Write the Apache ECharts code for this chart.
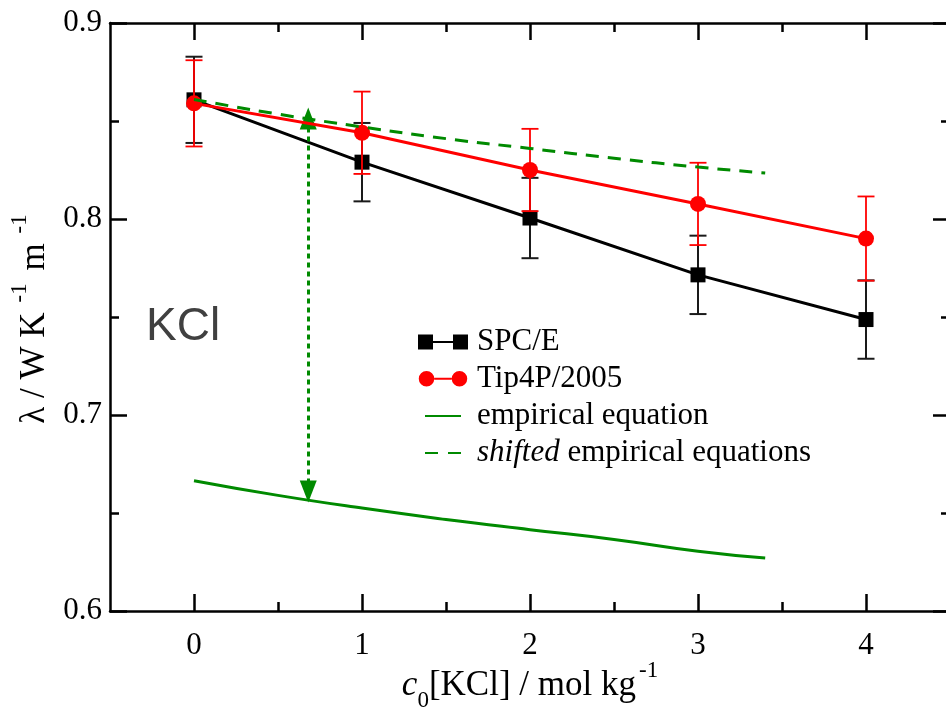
<!DOCTYPE html>
<html>
<head>
<meta charset="utf-8">
<title>KCl thermal conductivity</title>
<script src="https://cdn.jsdelivr.net/npm/echarts@6/dist/echarts.min.js"></script>
<style>
  html, body { margin: 0; padding: 0; background: #fff; }
  #chart { width: 946px; height: 710px; }
</style>
</head>
<body>
<div id="chart"></div>
<script>
// ===== Data =====
const concX      = [0, 1, 2, 3, 4];
const spceY      = [0.8608, 0.8290, 0.8005, 0.7715, 0.7487];
const spceErr    = [0.0220, 0.0200, 0.0205, 0.0200, 0.0200];
const tipY       = [0.8590, 0.8440, 0.8250, 0.8077, 0.7900];
const tipErr     = [0.0220, 0.0210, 0.0210, 0.0210, 0.0215];

const empX       = [0, 0.5, 1, 1.5, 2, 2.5, 3, 3.4];
const empY       = [0.6665, 0.6590, 0.6525, 0.6467, 0.6415, 0.6365, 0.6305, 0.6270];
const shiftedY   = [0.8610, 0.8535, 0.8470, 0.8410, 0.8360, 0.8310, 0.8265, 0.8235];

const arrowX     = 0.68;
const arrowEnds  = [0.8513, 0.6610];

const xMajorTicks = [0, 1, 2, 3, 4];
const xMinorTicks = [0.5, 1.5, 2.5, 3.5];

(function () {
  const el = document.getElementById('chart');
  const c = echarts.init(el, null, { renderer: 'canvas' });

  const SERIF = '"Liberation Serif", "Times New Roman", serif';
  const GREEN = '#008a00';
  const RED   = '#ff0000';
  const BLACK = '#000000';

  const pair = (xs, ys) => xs.map((x, i) => [x, ys[i]]);
  const bars = (ys, errs) => concX.map((x, i) => [x, ys[i] - errs[i], ys[i] + errs[i]]);

  // vertical error bar with caps
  function errorBars(color, width) {
    return function (params, api) {
      const x = api.value(0);
      const lo = api.coord([x, api.value(1)]);
      const hi = api.coord([x, api.value(2)]);
      const half = 8.5;
      const style = { stroke: color, lineWidth: width };
      return {
        type: 'group',
        children: [
          { type: 'line', shape: { x1: lo[0], y1: lo[1], x2: hi[0], y2: hi[1] }, style },
          { type: 'line', shape: { x1: lo[0] - half, y1: lo[1], x2: lo[0] + half, y2: lo[1] }, style },
          { type: 'line', shape: { x1: hi[0] - half, y1: hi[1], x2: hi[0] + half, y2: hi[1] }, style },
        ]
      };
    };
  }

  function xAxisBase(position, ticks, len, extra) {
    return Object.assign({
      type: 'value', position, min: -0.5, max: 4.5,
      axisLine: { show: true, onZero: false, lineStyle: { color: BLACK, width: 2.5 } },
      axisTick: { show: true, inside: true, length: len, customValues: ticks, lineStyle: { color: BLACK, width: 2.5 } },
      axisLabel: { show: false },
      splitLine: { show: false },
    }, extra);
  }

  function yAxisBase(position, extra) {
    return Object.assign({
      type: 'value', position, min: 0.6, max: 0.9, interval: 0.1,
      axisLine: { show: true, onZero: false, lineStyle: { color: BLACK, width: 2.5 } },
      axisTick: { show: true, inside: true, length: 17, lineStyle: { color: BLACK, width: 2.5 } },
      minorTick: { show: true, splitNumber: 2, length: 9, lineStyle: { color: BLACK, width: 2.5 } },
      axisLabel: { show: false },
      splitLine: { show: false },
      minorSplitLine: { show: false },
    }, extra);
  }

  const legendNames = ['SPC/E', 'Tip4P/2005', 'empirical equation', 'shifted empirical equations'];
  const BOX = 'M0,0 M50,16 ';

  c.setOption({
    animation: false,
    backgroundColor: '#ffffff',
    grid: { left: 110, right: -4, top: 23, bottom: 99, containLabel: false, outerBoundsMode: 'none' },
    legend: {
      orient: 'vertical', left: 413, top: 321,
      itemWidth: 50, itemHeight: 16, itemGap: 6,
      selectedMode: false,
      itemStyle: { borderWidth: 0 },
      textStyle: {
        fontFamily: SERIF, fontSize: 31, color: BLACK, lineHeight: 30, padding: [0, 0, 0, 4],
        rich: { i: { fontFamily: SERIF, fontSize: 31, fontStyle: 'italic', color: BLACK } }
      },
      formatter: name => name === legendNames[3] ? '{i|shifted} empirical equations' : name,
      data: [
        { name: legendNames[0], icon: 'path://' + BOX + 'M0,1H15V16H0Z M35,1H50V16H35Z M15,7.5H35V9.5H15Z' },
        { name: legendNames[1], icon: 'path://' + BOX + 'M0,8.5A8,8 0 1,1 16,8.5A8,8 0 1,1 0,8.5Z M34,8.5A8,8 0 1,1 50,8.5A8,8 0 1,1 34,8.5Z M16,7.5H34V9.5H16Z' },
        { name: legendNames[2], icon: 'path://' + BOX + 'M7,7.5H43V9.5H7Z' },
        { name: legendNames[3], icon: 'path://' + BOX + 'M7,7.5H20V9.5H7Z M30,7.5H43V9.5H30Z' },
      ]
    },
    graphic: [{
      type: 'text', left: 146, top: 304, silent: true,
      style: { text: 'KCl', fontFamily: '"Liberation Sans", Arial, sans-serif', fontSize: 46, fill: '#404040' }
    }],
    xAxis: [
      xAxisBase('bottom', xMajorTicks, 17, {
        axisLabel: { show: true, customValues: xMajorTicks, margin: 19, color: BLACK, fontFamily: SERIF, fontSize: 31 },
        name: '{i|c}{sub|0}{n|[KCl] / mol kg}{sup|-1}',
        nameLocation: 'middle', nameGap: 48, nameMoveOverlap: false,
        nameTextStyle: {
          color: BLACK, fontFamily: SERIF, fontSize: 35,
          rich: {
            i:   { fontFamily: SERIF, fontSize: 35, fontStyle: 'italic', color: BLACK, lineHeight: 44, verticalAlign: 'bottom' },
            sub: { fontFamily: SERIF, fontSize: 23, color: BLACK, lineHeight: 44, verticalAlign: 'bottom', padding: [0, 0, -9, 0] },
            n:   { fontFamily: SERIF, fontSize: 35, color: BLACK, lineHeight: 44, verticalAlign: 'bottom' },
            sup: { fontFamily: SERIF, fontSize: 23, color: BLACK, lineHeight: 44, verticalAlign: 'top', padding: [0, 0, 0, 3] },
          }
        }
      }),
      xAxisBase('bottom', xMinorTicks, 9, { axisLine: { show: false, onZero: false } }),
      xAxisBase('top', xMajorTicks, 17),
      xAxisBase('top', xMinorTicks, 9, { axisLine: { show: false, onZero: false } }),
    ],
    yAxis: [
      yAxisBase('left', {
        axisLabel: { show: true, margin: 8, color: BLACK, fontFamily: SERIF, fontSize: 31, formatter: v => v.toFixed(1) },
        name: '{n|λ / W K}{sup|-1}{n| m}{sup|-1}',
        nameLocation: 'middle', nameGap: 58, nameRotate: 90, nameMoveOverlap: false,
        nameTextStyle: {
          color: BLACK, fontFamily: SERIF, fontSize: 35,
          rich: {
            n:   { fontFamily: SERIF, fontSize: 35, color: BLACK, lineHeight: 44, verticalAlign: 'bottom' },
            sup: { fontFamily: SERIF, fontSize: 23, color: BLACK, lineHeight: 44, verticalAlign: 'top', padding: [0, 4, 0, 10] },
          }
        }
      }),
      yAxisBase('right'),
    ],
    series: [
      {
        name: 'spce-err', type: 'custom', xAxisIndex: 0, yAxisIndex: 0, z: 2,
        renderItem: errorBars('#1a1a1a', 2), encode: { x: 0, y: [1, 2] },
        data: bars(spceY, spceErr), silent: true,
      },
      {
        name: legendNames[0], type: 'line', xAxisIndex: 0, yAxisIndex: 0, z: 3,
        data: pair(concX, spceY),
        symbol: 'rect', symbolSize: 15,
        lineStyle: { color: BLACK, width: 3 },
        itemStyle: { color: BLACK, borderWidth: 0 },
      },
      {
        name: 'tip-err', type: 'custom', xAxisIndex: 0, yAxisIndex: 0, z: 4,
        renderItem: errorBars(RED, 1.8), encode: { x: 0, y: [1, 2] },
        data: bars(tipY, tipErr), silent: true,
      },
      {
        name: legendNames[1], type: 'line', xAxisIndex: 0, yAxisIndex: 0, z: 5,
        data: pair(concX, tipY),
        symbol: 'circle', symbolSize: 16,
        lineStyle: { color: RED, width: 3 },
        itemStyle: { color: RED, borderWidth: 0 },
      },
      {
        name: legendNames[2], type: 'line', xAxisIndex: 0, yAxisIndex: 0, z: 6,
        data: pair(empX, empY),
        symbol: 'none', smooth: true,
        lineStyle: { color: GREEN, width: 3 },
        itemStyle: { color: GREEN },
        markLine: {
          silent: true, animation: false,
          symbol: ['triangle', 'triangle'], symbolSize: [17, 22],
          lineStyle: { color: GREEN, width: 3, type: [5, 4] },
          itemStyle: { color: GREEN },
          label: { show: false },
          data: [[{ coord: [arrowX, arrowEnds[0]] }, { coord: [arrowX, arrowEnds[1]] }]],
        },
      },
      {
        name: legendNames[3], type: 'line', xAxisIndex: 0, yAxisIndex: 0, z: 6,
        data: pair(empX, shiftedY),
        symbol: 'none', smooth: true,
        lineStyle: { color: GREEN, width: 3, type: [13, 9] },
        itemStyle: { color: GREEN },
      },
    ]
  });
})();
</script>
</body>
</html>
